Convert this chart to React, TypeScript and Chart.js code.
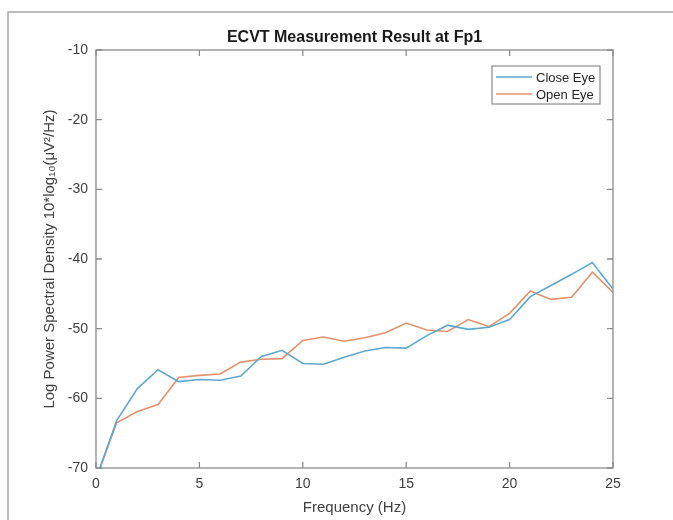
import React, { useEffect, useRef } from "react";
import { Chart, registerables } from "chart.js";

Chart.register(...registerables);

const frequencies = [0, 1, 2, 3, 4, 5, 6, 7, 8, 9, 10, 11, 12, 13, 14, 15, 16, 17, 18, 19, 20, 21, 22, 23, 24, 25];
const closeEye = [-71.6, -63.2, -58.6, -55.9, -57.6, -57.3, -57.4, -56.8, -54.0, -53.1, -55.0, -55.1, -54.1, -53.2, -52.7, -52.8, -51.0, -49.5, -50.1, -49.8, -48.7, -45.4, -43.8, -42.2, -40.5, -44.3];
const openEye = [-71.6, -63.5, -61.9, -60.9, -57.0, -56.7, -56.5, -54.8, -54.4, -54.3, -51.7, -51.2, -51.8, -51.3, -50.6, -49.2, -50.2, -50.4, -48.7, -49.7, -47.8, -44.6, -45.8, -45.5, -41.9, -44.8];
const xTickValues = [0, 5, 10, 15, 20, 25];
const yTickValues = [-70, -60, -50, -40, -30, -20, -10];
const seriesLabels = ["Close Eye", "Open Eye"];
const chartTitle = "ECVT Measurement Result at Fp1";
const xAxisTitle = "Frequency (Hz)";
const yAxisTitle = "Log Power Spectral Density 10*log\u2081\u2080(\u03BCV\u00B2/Hz)";

const FONT = "'Liberation Sans', Arial, Helvetica, sans-serif";
const BLUE = "#5ea8cf";
const ORANGE = "#e3926d";
const AXIS = "#8c8c8c";

const framePlugin = {
  id: "matlabFrame",
  beforeDraw(chart: any) {
    const ctx = chart.ctx;
    ctx.save();
    ctx.strokeStyle = "#a8a8a8";
    ctx.lineWidth = 1.5;
    ctx.beginPath();
    ctx.moveTo(8, chart.height);
    ctx.lineTo(8, 12);
    ctx.lineTo(chart.width, 12);
    ctx.stroke();
    ctx.restore();
  },
  afterDatasetsDraw(chart: any) {
    const { ctx, chartArea: a, scales } = chart;
    ctx.save();
    ctx.strokeStyle = AXIS;
    ctx.lineWidth = 1.3;
    ctx.strokeRect(a.left, a.top, a.right - a.left, a.bottom - a.top);
    const L = 6;
    ctx.beginPath();
    scales.x.ticks.forEach((t: any) => {
      const px = scales.x.getPixelForValue(t.value);
      ctx.moveTo(px, a.bottom);
      ctx.lineTo(px, a.bottom - L);
      ctx.moveTo(px, a.top);
      ctx.lineTo(px, a.top + L);
    });
    scales.y.ticks.forEach((t: any) => {
      const py = scales.y.getPixelForValue(t.value);
      ctx.moveTo(a.left, py);
      ctx.lineTo(a.left + L, py);
      ctx.moveTo(a.right, py);
      ctx.lineTo(a.right - L, py);
    });
    ctx.stroke();

    // legend box (top-right inside axes)
    const boxRight = a.right - 13;
    const boxLeft = boxRight - 108;
    const boxTop = a.top + 16;
    const boxBottom = boxTop + 38;
    ctx.fillStyle = "#ffffff";
    ctx.fillRect(boxLeft, boxTop, boxRight - boxLeft, boxBottom - boxTop);
    ctx.strokeStyle = AXIS;
    ctx.lineWidth = 1.2;
    ctx.strokeRect(boxLeft, boxTop, boxRight - boxLeft, boxBottom - boxTop);
    ctx.font = `13px ${FONT}`;
    ctx.textBaseline = "middle";
    ctx.textAlign = "left";
    chart.data.datasets.forEach((ds: any, i: number) => {
      const y = boxTop + 11 + i * 17;
      ctx.strokeStyle = ds.borderColor;
      ctx.lineWidth = 1.6;
      ctx.beginPath();
      ctx.moveTo(boxLeft + 4, y);
      ctx.lineTo(boxLeft + 40, y);
      ctx.stroke();
      ctx.fillStyle = "#262626";
      ctx.fillText(ds.label, boxLeft + 44, y + 1);
    });
    ctx.restore();
  },
};

export default function App() {
  const ref = useRef<HTMLCanvasElement>(null);
  useEffect(() => {
    if (!ref.current) return;
    const chart = new Chart(ref.current, {
      type: "line",
      data: {
        datasets: [
          {
            label: seriesLabels[0],
            data: frequencies.map((f, i) => ({ x: f, y: closeEye[i] })),
            borderColor: BLUE,
            backgroundColor: BLUE,
            borderWidth: 1.6,
            pointRadius: 0,
            tension: 0,
          },
          {
            label: seriesLabels[1],
            data: frequencies.map((f, i) => ({ x: f, y: openEye[i] })),
            borderColor: ORANGE,
            backgroundColor: ORANGE,
            borderWidth: 1.6,
            pointRadius: 0,
            tension: 0,
          },
        ],
      },
      options: {
        animation: false,
        responsive: false,
        devicePixelRatio: 1,
        layout: { padding: { left: 36, right: 0, top: 0, bottom: 0 } },
        plugins: {
          legend: { display: false },
          tooltip: { enabled: false },
          title: {
            display: true,
            text: chartTitle,
            color: "#1a1a1a",
            font: { family: FONT, size: 16, weight: "bold" },
            padding: { top: 28.4, bottom: 2.4 },
          },
        },
        scales: {
          x: {
            type: "linear",
            min: 0,
            max: 25,
            afterBuildTicks: (s: any) => {
              s.ticks = xTickValues.map((v) => ({ value: v }));
            },
            afterFit: (s: any) => {
              s.height = 52;
            },
            grid: { display: false, drawTicks: false },
            border: { display: false },
            ticks: {
              color: "#404040",
              font: { family: FONT, size: 14 },
              padding: 8,
              maxRotation: 0,
            },
            title: {
              display: true,
              text: xAxisTitle,
              color: "#404040",
              font: { family: FONT, size: 15 },
              padding: { top: 0, bottom: 3 },
            },
          },
          y: {
            type: "linear",
            min: -70,
            max: -10,
            afterBuildTicks: (s: any) => {
              s.ticks = yTickValues.map((v) => ({ value: v }));
            },
            afterFit: (s: any) => {
              s.width = 60;
            },
            grid: { display: false, drawTicks: false },
            border: { display: false },
            ticks: {
              color: "#404040",
              font: { family: FONT, size: 14 },
              padding: 8,
            },
            title: {
              display: true,
              text: yAxisTitle,
              color: "#404040",
              font: { family: FONT, size: 15 },
              padding: { top: 5, bottom: 0 },
            },
          },
          yRight: {
            type: "linear",
            position: "right",
            min: -70,
            max: -10,
            afterFit: (s: any) => {
              s.width = 60;
            },
            grid: { display: false, drawTicks: false },
            border: { display: false },
            ticks: { display: false },
          },
        },
      },
      plugins: [framePlugin],
    } as any);
    return () => chart.destroy();
  }, []);
  return (
    <div style={{ position: "fixed", left: 0, top: 0, width: 673, height: 520, background: "#fff" }}>
      <canvas ref={ref} width={673} height={520} style={{ display: "block" }} />
    </div>
  );
}
